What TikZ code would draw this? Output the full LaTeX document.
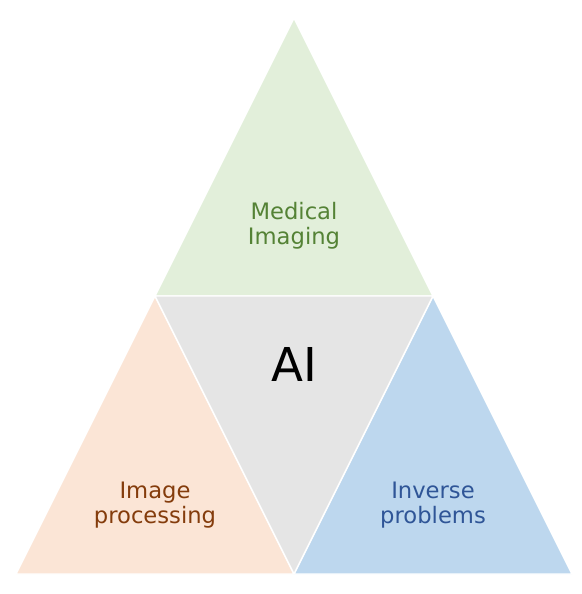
\documentclass[tikz,border=0pt]{standalone}
\usepackage{fontspec}
\setmainfont{DejaVu Sans}
\definecolor{MedFill}{RGB}{226,239,218}
\definecolor{MedText}{RGB}{84,130,53}
\definecolor{ImgFill}{RGB}{251,229,214}
\definecolor{ImgText}{RGB}{132,60,12}
\definecolor{InvFill}{RGB}{189,215,238}
\definecolor{InvText}{RGB}{47,85,151}
\definecolor{AIFill}{RGB}{229,229,229}
\usetikzlibrary{positioning}

\begin{document}
\begin{tikzpicture}[x=0.75pt, y=-0.75pt,
    tri/.style={draw=white, line width=1.1pt, line join=round},
    lbl/.style={align=center, font=\fontsize{17}{18.8}\selectfont, inner sep=0pt}]
          \useasboundingbox (0,0) rectangle (582,594);
          % corners of the big triangle
          \coordinate (top) at (294,18);
          \coordinate (midL) at (155,296);
          \coordinate (midR) at (433,296);
          \coordinate (botL) at (16,574);
          \coordinate (botM) at (294,574);
          \coordinate (botR) at (572,574);
          \filldraw[tri, fill=MedFill] (top) -- (midR) -- (midL) -- cycle;
          \filldraw[tri, fill=ImgFill] (midL) -- (botM) -- (botL) -- cycle;
          \filldraw[tri, fill=InvFill] (midR) -- (botR) -- (botM) -- cycle;
          \filldraw[tri, fill=AIFill] (midL) -- (midR) -- (botM) -- cycle;
          \node[lbl, text=MedText] (med) at (294,226) {Medical\\Imaging};
          \node[lbl, text=ImgText] (img) at (155,505) {Image\\processing};
          \node[lbl, text=InvText] (inv) at (433,505) {Inverse\\problems};
          \node[font=\fontsize{35}{40}\selectfont, inner sep=0pt] (ai) at (294,364) {AI};
        \end{tikzpicture}
\end{document}
